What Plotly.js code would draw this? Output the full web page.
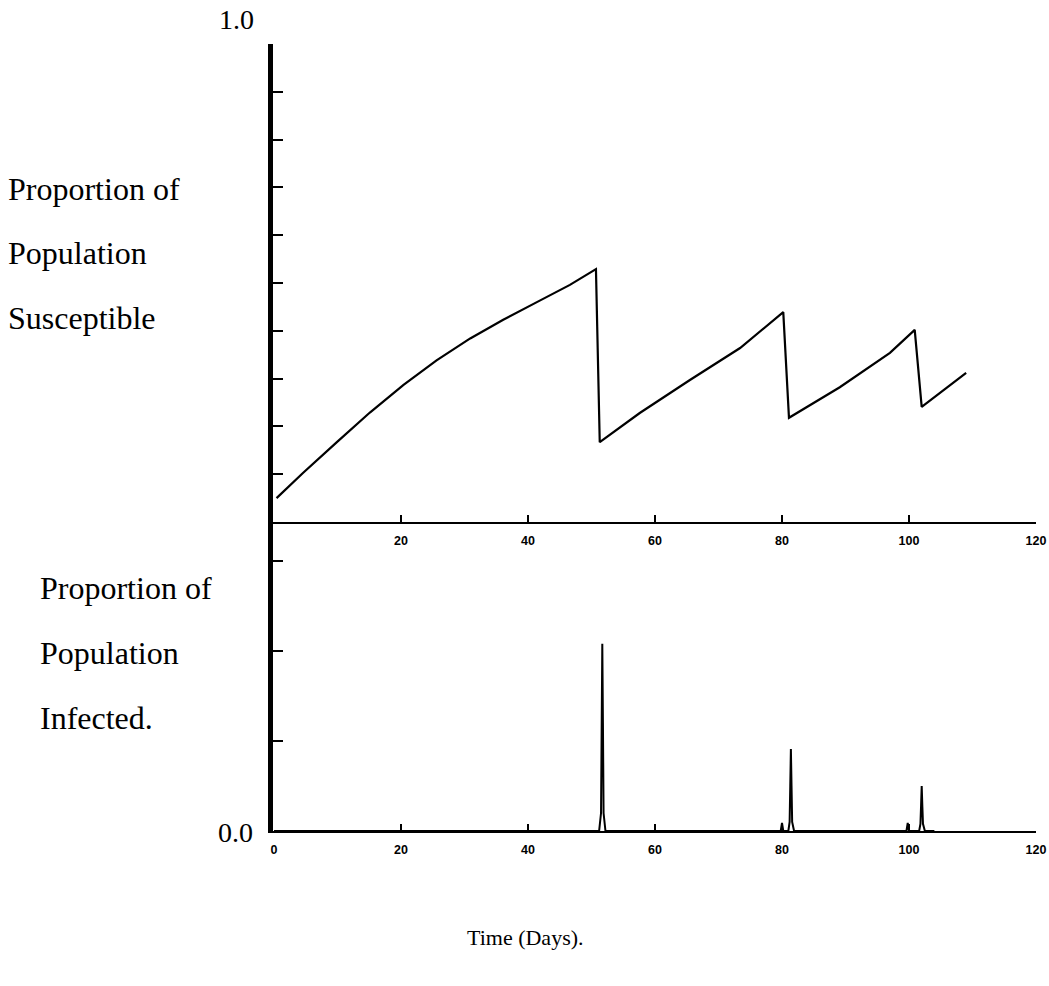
<!DOCTYPE html>
<html>
<head>
<meta charset="utf-8">
<script src="https://cdn.plot.ly/plotly-3.0.1.min.js"></script>
<style>
  html, body { margin: 0; padding: 0; background: #ffffff; }
  #chart { width: 1049px; height: 986px; }
</style>
</head>
<body>
<div id="chart"></div>
<script>
// ---- Data ----
const susDays = [0.4, 4.6, 9.9, 15.1, 20.4, 25.6, 30.9, 36.1, 41.4, 46.6, 50.7, 51.3, 57.6, 65.5, 73.4, 80.2, 81.1, 89.1, 97.0, 100.9, 102.0, 109.0];
const susVals = [0.050, 0.103, 0.167, 0.229, 0.287, 0.338, 0.384, 0.423, 0.460, 0.496, 0.529, 0.167, 0.228, 0.297, 0.364, 0.439, 0.218, 0.282, 0.354, 0.402, 0.241, 0.312];

const infDays = [0, 51.2, 51.5, 51.6, 51.7, 51.8, 51.9, 52.2,
                 79.8, 80.0, 80.2, 81.0, 81.2, 81.3, 81.4, 81.5, 81.6, 81.9,
                 99.6, 99.8, 100.0, 101.6, 101.8, 101.9, 102.0, 102.1, 102.2, 102.5, 104.0];
const infVals = [0, 0, 0.010, 0.060, 0.104, 0.060, 0.010, 0,
                 0, 0.0045, 0,  0, 0.005, 0.025, 0.0455, 0.025, 0.005, 0,
                 0, 0.0045, 0,  0, 0.004, 0.014, 0.025, 0.014, 0.004, 0, 0];

const xTicksTop = [20, 40, 60, 80, 100, 120];
const xTicksBottom = [0, 20, 40, 60, 80, 100, 120];
const susTicks = [0.1, 0.2, 0.3, 0.4, 0.5, 0.6, 0.7, 0.8, 0.9, 1.0];
const infTicks = [0.05, 0.10, 0.15];

// ---- Geometry helpers (pixel -> paper) ----
const L = 273, R = 1036, T = 44, B = 831;
const X0 = 274;                       // pixel of day 0
const pxPerDay = (R - X0) / 120;
const px = x => (x - L) / (R - L);
const py = y => (B - y) / (B - T);
const split = py(522);

const serif = 'Liberation Serif, Times New Roman, serif';
const labFont = {family: serif, size: 32, color: '#000'};

const traces = [
  {x: susDays, y: susVals, xaxis: 'x', yaxis: 'y', mode: 'lines',
   line: {color: '#000', width: 2.2}, hoverinfo: 'skip'},
  {x: infDays, y: infVals, xaxis: 'x2', yaxis: 'y2', mode: 'lines',
   line: {color: '#000', width: 2}, hoverinfo: 'skip'}
];

const xBase = {
  range: [-(X0 - L) / pxPerDay, 120], showgrid: false, zeroline: false,
  showline: true, linecolor: '#000', linewidth: 2,
  ticks: 'inside', ticklen: 7, tickwidth: 2, tickcolor: '#000',
  tickfont: {family: 'Liberation Sans, Arial, sans-serif', size: 12.5, color: '#000', weight: 'bold'},
  ticklabelstandoff: 6, fixedrange: true
};
const yBase = {
  showgrid: false, zeroline: false, showline: true, linecolor: '#000', linewidth: 5,
  ticks: 'inside', ticklen: 10, tickwidth: 2, tickcolor: '#000',
  showticklabels: false, fixedrange: true
};

const ann = (text, x, y, xa, extra) => Object.assign({
  text: text, xref: 'paper', yref: 'paper', x: px(x), y: py(y),
  xanchor: xa, yanchor: 'middle', showarrow: false, font: labFont
}, extra || {});

const layout = {
  width: 1049, height: 986,
  margin: {l: L, r: 1049 - R, t: T, b: 986 - B},
  paper_bgcolor: '#fff', plot_bgcolor: '#fff',
  showlegend: false,
  xaxis: Object.assign({}, xBase, {anchor: 'y', tickvals: xTicksTop, ticktext: xTicksTop.map(String)}),
  yaxis: Object.assign({}, yBase, {domain: [split, 1], range: [0, 1], tickvals: susTicks}),
  xaxis2: Object.assign({}, xBase, {anchor: 'y2', tickvals: xTicksBottom, ticktext: xTicksBottom.map(String)}),
  yaxis2: Object.assign({}, yBase, {domain: [0, split], range: [0, 0.17165], tickvals: infTicks}),
  annotations: [
    ann('1.0', 236, 20, 'center', {font: {family: serif, size: 28, color: '#000'}}),
    ann('0.0', 235, 832, 'center', {font: {family: serif, size: 28, color: '#000'}}),
    ann('Proportion of', 6, 189, 'left'),
    ann('Population', 6, 253, 'left'),
    ann('Susceptible', 6, 318, 'left'),
    ann('Proportion of', 38, 588, 'left'),
    ann('Population', 38, 653, 'left'),
    ann('Infected.', 38, 718, 'left'),
    ann('Time (Days).', 525, 938, 'center', {font: {family: serif, size: 22, color: '#000'}})
  ]
};

Plotly.newPlot('chart', traces, layout, {displayModeBar: false, staticPlot: true});
</script>
</body>
</html>
